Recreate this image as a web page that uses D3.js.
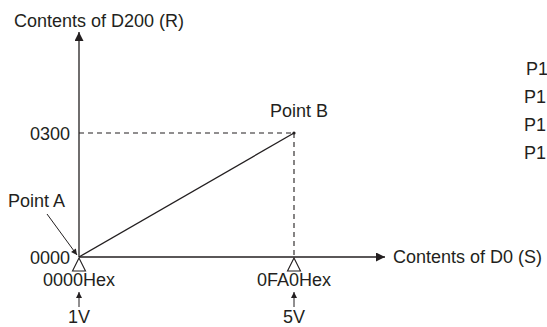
<!DOCTYPE html>
<html>
<head>
<meta charset="utf-8">
<script src="https://cdn.jsdelivr.net/npm/d3@7"></script>
<style>
  body { margin: 0; background: #fff; }
  svg { display: block; }
  text { font-family: "Liberation Sans", Arial, sans-serif; font-size: 18px; fill: #231f20; }
</style>
</head>
<body>
<svg id="chart" width="547" height="327"></svg>
<script>
// values (hex counts)
var pointNames = ["Point A", "Point B"];
var sValues = [0x0000, 0x0FA0];
var rValues = [0x0000, 0x0300];
var xTickValues = [0x0000, 0x0FA0];
var xTickLabels = ["0000Hex", "0FA0Hex"];
var voltLabels = ["1V", "5V"];
var yTickValues = [0x0000, 0x0300];
var yTickLabels = ["0000", "0300"];
var sideLabels = ["P1", "P1", "P1", "P1"];

var ink = "#231f20";
var svg = d3.select("#chart");

var xScale = d3.scaleLinear().domain([0, 0x0FA0]).range([79, 294]);
var yScale = d3.scaleLinear().domain([0, 0x0300]).range([257, 133]);

var defs = svg.append("defs");
defs.append("marker")
    .attr("id", "arrow")
    .attr("viewBox", "0 0 10 10")
    .attr("refX", 10).attr("refY", 5)
    .attr("markerWidth", 13).attr("markerHeight", 9)
    .attr("markerUnits", "userSpaceOnUse")
    .attr("orient", "auto")
  .append("path")
    .attr("d", "M0,0 L10,5 L0,10 Z")
    .attr("fill", ink);
defs.append("marker")
    .attr("id", "arrowSmall")
    .attr("viewBox", "0 0 10 10")
    .attr("refX", 10).attr("refY", 5)
    .attr("markerWidth", 8).attr("markerHeight", 6)
    .attr("markerUnits", "userSpaceOnUse")
    .attr("orient", "auto")
  .append("path")
    .attr("d", "M0,0 L10,5 L0,10 Z")
    .attr("fill", ink);

var x0 = xScale(0), y0 = yScale(0);

// dashed guides to point B
var pB = { s: sValues[1], r: rValues[1] };
svg.append("line")
    .attr("x1", x0).attr("x2", xScale(pB.s))
    .attr("y1", yScale(pB.r)).attr("y2", yScale(pB.r))
    .attr("stroke", ink).attr("stroke-width", 1.1).attr("stroke-dasharray", "5,4");
svg.append("line")
    .attr("x1", xScale(pB.s)).attr("x2", xScale(pB.s))
    .attr("y1", yScale(pB.r)).attr("y2", y0)
    .attr("stroke", ink).attr("stroke-width", 1.1).attr("stroke-dasharray", "5,4");

// axes with arrow heads
svg.append("line")
    .attr("x1", x0).attr("y1", y0).attr("x2", 385).attr("y2", y0)
    .attr("stroke", ink).attr("stroke-width", 1.3)
    .attr("marker-end", "url(#arrow)");
svg.append("line")
    .attr("x1", x0).attr("y1", y0).attr("x2", x0).attr("y2", 32)
    .attr("stroke", ink).attr("stroke-width", 1.3)
    .attr("marker-end", "url(#arrow)");

// y tick labels
var yAxis = d3.axisLeft(yScale)
    .tickValues(yTickValues)
    .tickSize(0)
    .tickPadding(9)
    .tickFormat(function(d, i) { return yTickLabels[i]; });
var yg = svg.append("g").attr("transform", "translate(" + x0 + ",0)").call(yAxis);
yg.select(".domain").remove();
yg.selectAll("text")
    .attr("font-family", null).attr("font-size", null).attr("fill", ink)
    .attr("dy", "0.36em");

// conversion line
var line = d3.line()
    .x(function(d) { return xScale(d.s); })
    .y(function(d) { return yScale(d.r); });
var pts = sValues.map(function(s, i) { return { s: s, r: rValues[i], name: pointNames[i] }; });
svg.append("path")
    .datum(pts)
    .attr("d", line)
    .attr("fill", "none")
    .attr("stroke", ink)
    .attr("stroke-width", 1.3);
svg.append("circle")
    .attr("cx", xScale(pB.s)).attr("cy", yScale(pB.r)).attr("r", 1.6).attr("fill", ink);

// point labels
svg.append("text").attr("x", xScale(pB.s) - 24).attr("y", yScale(pB.r) - 16).text(pointNames[1]);
svg.append("text").attr("x", 8).attr("y", 207).text(pointNames[0]);
svg.append("line")
    .attr("x1", 47).attr("y1", 214).attr("x2", x0 - 2).attr("y2", y0 - 2)
    .attr("stroke", ink).attr("stroke-width", 1)
    .attr("marker-end", "url(#arrowSmall)");

// x ticks: triangles, hex labels, small arrows, voltages
var xt = svg.selectAll(".xtick")
    .data(xTickValues)
    .enter()
    .append("g")
      .attr("class", "xtick")
      .attr("transform", function(d) { return "translate(" + xScale(d) + "," + y0 + ")"; });
xt.append("path")
    .attr("d", "M0,1 L6.5,14 L-6.5,14 Z")
    .attr("fill", "#fff").attr("stroke", ink).attr("stroke-width", 1.1);
xt.append("text")
    .attr("y", 29)
    .attr("text-anchor", "middle")
    .text(function(d, i) { return xTickLabels[i]; });
xt.append("line")
    .attr("x1", 0).attr("x2", 0).attr("y1", 50).attr("y2", 35)
    .attr("stroke", ink).attr("stroke-width", 1)
    .attr("marker-end", "url(#arrowSmall)");
xt.append("text")
    .attr("y", 66)
    .attr("text-anchor", "middle")
    .text(function(d, i) { return voltLabels[i]; });

// axis titles
svg.append("text").attr("x", 14).attr("y", 27).text("Contents of D200 (R)");
svg.append("text").attr("x", 393).attr("y", y0 + 6).text("Contents of D0 (S)");

// labels at the right edge
svg.selectAll(".side")
    .data(sideLabels)
    .enter()
    .append("text")
      .attr("class", "side")
      .attr("x", function(d, i) { return i === 0 ? 526 : 524; })
      .attr("y", function(d, i) { return 75 + i * 28; })
      .text(function(d) { return d; });
</script>
</body>
</html>
